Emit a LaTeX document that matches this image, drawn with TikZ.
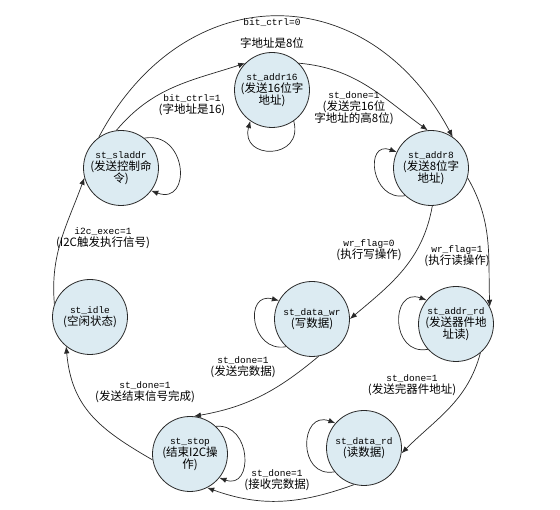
\documentclass[tikz,border=0pt]{standalone}
\usepackage{fontspec}
\usetikzlibrary{arrows.meta}
\newfontfamily\zhfont{Noto Sans CJK SC}
\newfontfamily\mnfont{Liberation Mono}
\newcommand\ZH{\zhfont\fontsize{11.5}{14.5}\selectfont}
\newcommand\MN{\mnfont\fontsize{9.5}{14.5}\selectfont}
\definecolor{stfill}{RGB}{220,235,242}
\definecolor{ln}{RGB}{40,40,40}
\begin{document}
\begin{tikzpicture}[x=1pt,y=1pt,
  state/.style={circle, draw=ln, fill=stfill, line width=0.8pt, minimum size=75pt, inner sep=0pt, align=center},
  lbl/.style={align=center, inner sep=0pt},
  edge/.style={draw=ln, line width=0.7pt, -{Latex[length=7pt,width=5.5pt]}}]
\useasboundingbox (0,0) rectangle (560,510);
% states
\node[state] (addr16) at (272,420) {\MN st\_addr16\\\ZH (发送16位字\\\ZH 地址)};
\node[state] (sladdr) at (121,342) {\MN st\_sladdr\\\ZH (发送控制命\\\ZH 令)};
\node[state] (addr8) at (431,342) {\MN st\_addr8\\\ZH (发送8位字\\\ZH 地址)};
\node[state] (idle) at (90,193) {\MN st\_idle\\\ZH (空闲状态)};
\node[state] (datawr) at (312,191) {\MN st\_data\_wr\\\ZH (写数据)};
\node[state] (addrrd) at (456,186) {\MN st\_addr\_rd\\\ZH (发送器件地\\\ZH 址读)};
\node[state] (stop) at (190,56) {\MN st\_stop\\\ZH (结束I2C操\\\ZH 作)};
\node[state] (datard) at (364,62) {\MN st\_data\_rd\\\ZH (读数据)};
% transitions
\draw[edge] (idle.160) to[out=95, in=250] (sladdr.195);
\draw[edge] (sladdr.52) to[out=10, in=-20, looseness=2.1] (sladdr.-37);
\draw[edge] (sladdr.97) to[out=50, in=198] (addr16.135);
\draw[edge] (sladdr.126) to[out=62, in=118, looseness=1.32] (addr8.55);
\draw[edge] (addr16.-55) to[out=-75, in=-105, looseness=2.4] (addr16.-125);
\draw[edge] (addr16.45) to[out=-5, in=144] (addr8.95);
\draw[edge] (addr8.227) to[out=190, in=160, looseness=2] (addr8.155);
\draw[edge] (addr8.-88) to[out=-100, in=40] (datawr.0);
\draw[edge] (addr8.-15) to[out=-60, in=92] (addrrd.27);
\draw[edge] (datawr.227) to[out=190, in=165, looseness=2] (datawr.151);
\draw[edge] (addrrd.222) to[out=190, in=160, looseness=2] (addrrd.141);
\draw[edge] (datawr.-80) to[out=-140, in=10] (stop.84);
\draw[edge] (stop.47) to[out=5, in=-20, looseness=1.8] (stop.-39);
\draw[edge] (stop.189) to[out=150, in=-85, looseness=1.1] (idle.231);
\draw[edge] (addrrd.-50) to[out=-105, in=45] (datard.-8);
\draw[edge] (datard.219) to[out=190, in=160, looseness=2] (datard.139);
\draw[edge] (datard.255) to[out=-160, in=-20] (stop.-63);
% labels
\node[lbl] (l0a) at (272,487) {\MN bit\_ctrl=0};
\node[lbl] (l0b) at (272,467) {\ZH 字地址是8位};
\node[lbl] (l1) at (192,404.5) {\MN bit\_ctrl=1\\\ZH (字地址是16)};
\node[lbl] (l2) at (354,401.5) {\MN st\_done=1\\\ZH (发送完16位\\\ZH 字地址的高8位)};
\node[lbl] (l3) at (103,271.5) {\MN i2c\_exec=1\\\ZH (I2C触发执行信号)};
\node[lbl] (l4) at (369,260) {\MN wr\_flag=0\\\ZH (执行写操作)};
\node[lbl] (l5) at (457,253.5) {\MN wr\_flag=1\\\ZH (执行读操作)};
\node[lbl] (l6) at (243,142.5) {\MN st\_done=1\\\ZH (发送完数据)};
\node[lbl] (l7) at (145,117.5) {\MN st\_done=1\\\ZH (发送结束信号完成)};
\node[lbl] (l8) at (412,124.5) {\MN st\_done=1\\\ZH (发送完器件地址)};
\node[lbl] (l9) at (277,30) {\MN st\_done=1\\\ZH (接收完数据)};
\end{tikzpicture}
\end{document}
